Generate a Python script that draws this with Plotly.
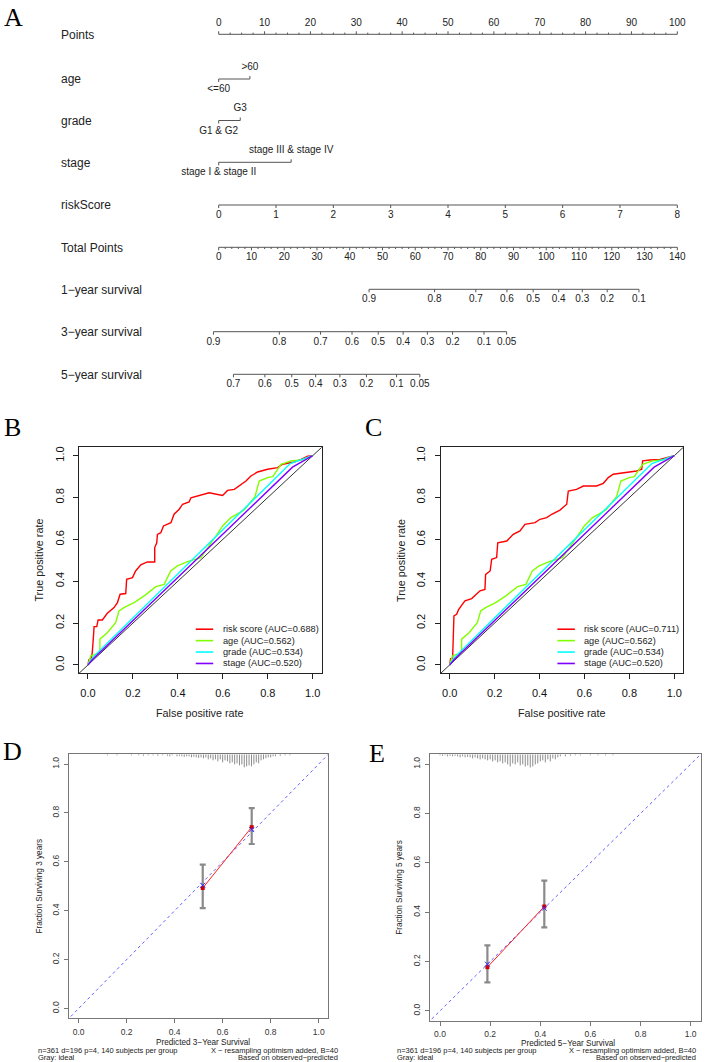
import plotly.graph_objects as go

W, H = 708, 1062
SANS = "Liberation Sans, Arial, sans-serif"
SERIF = "Liberation Serif, Times New Roman, serif"

# ---------------- A: nomogram data ----------------
points_ticks = [0, 10, 20, 30, 40, 50, 60, 70, 80, 90, 100]
age_levels = ["<=60", ">60"]
age_points = [0, 6.8]
grade_levels = ["G1 & G2", "G3"]
grade_points = [0, 4.7]
stage_levels = ["stage I & stage II", "stage III & stage IV"]
stage_points = [0, 15.8]
risk_ticks = [0, 1, 2, 3, 4, 5, 6, 7, 8]
risk_points_per_unit = 12.5
total_ticks = [0, 10, 20, 30, 40, 50, 60, 70, 80, 90, 100, 110, 120, 130, 140]
total_max = 140
surv1_labels = ["0.9", "0.8", "0.7", "0.6", "0.5", "0.4", "0.3", "0.2", "0.1"]
surv1_total = [45.9, 65.9, 78.5, 88.0, 96.0, 103.8, 111.0, 118.6, 128.3]
surv3_labels = ["0.9", "0.8", "0.7", "0.6", "0.5", "0.4", "0.3", "0.2", "0.1", "0.05"]
surv3_total = [-1.6, 18.5, 31.1, 40.7, 48.7, 56.3, 63.7, 71.4, 81.0, 87.9]
surv5_labels = ["0.7", "0.6", "0.5", "0.4", "0.3", "0.2", "0.1", "0.05"]
surv5_total = [4.5, 14.1, 22.3, 29.6, 37.0, 45.1, 54.3, 61.4]

# ---------------- B / C: ROC data ----------------
b_risk_fpr = [0, 0.004, 0.015, 0.019, 0.024, 0.027, 0.039, 0.045, 0.064, 0.086, 0.116, 0.131, 0.143,
              0.168, 0.172, 0.198, 0.212, 0.235, 0.264, 0.297, 0.297, 0.306, 0.309, 0.324, 0.336, 0.369,
              0.383, 0.406, 0.421, 0.450, 0.458, 0.487, 0.539, 0.599, 0.621, 0.651, 0.681, 0.703, 0.725,
              0.755, 0.799, 0.844, 0.866, 0.918, 0.948, 0.978, 1.0]
b_risk_tpr = [0, 0.024, 0.035, 0.059, 0.131, 0.183, 0.183, 0.215, 0.215, 0.247, 0.274, 0.298, 0.338,
              0.341, 0.409, 0.417, 0.449, 0.478, 0.492, 0.492, 0.561, 0.584, 0.624, 0.632, 0.664, 0.680,
              0.720, 0.744, 0.768, 0.779, 0.799, 0.807, 0.823, 0.810, 0.834, 0.839, 0.863, 0.879, 0.903,
              0.922, 0.935, 0.943, 0.959, 0.970, 0.982, 0.998, 1.0]
c_risk_fpr = [0, 0.004, 0.013, 0.016, 0.019, 0.031, 0.039, 0.053, 0.068, 0.098, 0.113, 0.135, 0.157,
              0.160, 0.180, 0.187, 0.209, 0.214, 0.254, 0.283, 0.313, 0.335, 0.380, 0.402, 0.432, 0.454,
              0.491, 0.521, 0.528, 0.565, 0.595, 0.654, 0.684, 0.706, 0.728, 0.788, 0.832, 0.855, 0.859,
              0.892, 0.936, 0.966, 1.0]
c_risk_tpr = [0, 0.030, 0.030, 0.107, 0.234, 0.242, 0.263, 0.285, 0.306, 0.317, 0.333, 0.354, 0.361,
              0.433, 0.449, 0.505, 0.513, 0.584, 0.592, 0.624, 0.640, 0.672, 0.680, 0.696, 0.704, 0.720,
              0.740, 0.768, 0.831, 0.839, 0.855, 0.855, 0.868, 0.895, 0.911, 0.919, 0.927, 0.935, 0.975,
              0.979, 0.982, 0.990, 1.0]
age_fpr = [0, 0.012, 0.053, 0.053, 0.086, 0.123, 0.138, 0.160, 0.205, 0.250, 0.302, 0.339, 0.368,
           0.398, 0.443, 0.502, 0.569, 0.599, 0.636, 0.695, 0.743, 0.762, 0.799, 0.822, 0.859, 0.903,
           0.948, 1.0]
age_tpr = [0, 0.043, 0.059, 0.123, 0.154, 0.202, 0.258, 0.274, 0.298, 0.330, 0.374, 0.385, 0.449,
           0.473, 0.494, 0.513, 0.616, 0.664, 0.704, 0.740, 0.804, 0.879, 0.895, 0.900, 0.959, 0.975,
           0.979, 1.0]
grade_fpr = [0, 0.02, 0.90, 1.0]
grade_tpr = [0, 0.035, 0.962, 1.0]
stage_fpr = [0, 0.02, 0.91, 1.0]
stage_tpr = [0, 0.026, 0.945, 1.0]
b_labels = ["risk score (AUC=0.688)", "age (AUC=0.562)", "grade (AUC=0.534)", "stage (AUC=0.520)"]
c_labels = ["risk score (AUC=0.711)", "age (AUC=0.562)", "grade (AUC=0.534)", "stage (AUC=0.520)"]
roc_colors = ["#FF0000", "#80FF00", "#00FFFF", "#8000FF"]

# ---------------- D / E: calibration data ----------------
d_pred = [0.517, 0.721]
d_obs = [0.493, 0.742]
d_corr = [0.504, 0.732]
d_low = [0.411, 0.673]
d_high = [0.589, 0.820]
d_rug_x = [0.12, 0.16, 0.22, 0.25, 0.27, 0.29, 0.31, 0.33, 0.35, 0.37, 0.38, 0.39, 0.41, 0.42, 0.43,
           0.44, 0.45, 0.46, 0.47, 0.48, 0.49, 0.50, 0.51, 0.52, 0.53, 0.54, 0.55, 0.56, 0.57, 0.58,
           0.59, 0.60, 0.61, 0.62, 0.63, 0.64, 0.65, 0.66, 0.67, 0.68, 0.69, 0.70, 0.71, 0.72, 0.73,
           0.74, 0.75, 0.76, 0.77, 0.78, 0.79, 0.80, 0.81, 0.82, 0.84, 0.86, 0.88]
d_rug_n = [1, 1, 1, 1, 1.5, 1, 1, 1.5, 1, 1.5, 2, 1, 2, 1.5, 2,
           2.5, 2, 2, 3, 2.5, 3, 3.5, 3, 4, 3, 5, 4, 6, 5, 7,
           5, 8, 6, 7, 9, 8, 10, 9, 11, 10, 13, 12, 11, 12, 10,
           8, 9, 6, 5, 4, 3, 3, 2, 2, 1.5, 1, 1]
e_pred = [0.189, 0.416]
e_obs = [0.177, 0.423]
e_corr = [0.189, 0.416]
e_low = [0.115, 0.338]
e_high = [0.265, 0.528]
e_rug_x = [0.00, 0.01, 0.02, 0.03, 0.04, 0.05, 0.06, 0.07, 0.08, 0.09, 0.10, 0.11, 0.12, 0.13, 0.14,
           0.15, 0.16, 0.17, 0.18, 0.19, 0.20, 0.21, 0.22, 0.23, 0.24, 0.25, 0.26, 0.27, 0.28, 0.29,
           0.30, 0.31, 0.32, 0.33, 0.34, 0.35, 0.36, 0.37, 0.38, 0.39, 0.40, 0.41, 0.42, 0.43, 0.44,
           0.45, 0.46, 0.47, 0.48, 0.50, 0.52, 0.54, 0.56, 0.60, 0.63, 0.66, 0.69]
e_rug_n = [1, 1.5, 1, 2, 1.5, 2, 1.5, 2, 3, 2, 3, 2.5, 3, 4, 3,
           4, 5, 4, 5, 6, 5, 7, 6, 8, 7, 9, 8, 10, 12, 9,
           10, 8, 11, 10, 12, 11, 13, 12, 10, 9, 7, 6, 8, 5, 7,
           4, 5, 3, 2, 2, 1.5, 1, 1, 1, 1, 1, 1]

fig = go.Figure()

# ---------------- nomogram drawing ----------------
row_y = {"Points": 34.3, "age": 79, "grade": 120.5, "stage": 162.3, "riskScore": 205,
         "Total Points": 247.3, "1−year survival": 289.3, "3−year survival": 331.7,
         "5−year survival": 374.3}
nom_x, nom_y = [], []
txt_x, txt_y, txt_s = [], [], []


def seg(x0, x1, y0, y1):
    nom_x.extend([x0, x1, None])
    nom_y.extend([y0, y1, None])


def lab(x, y, s):
    txt_x.append(x)
    txt_y.append(y)
    txt_s.append(s)


def scale_row(pts, labels, y, up, minor=None):
    d = -1 if up else 1
    seg(min(pts), max(pts), y, y)
    for p in pts:
        seg(p, p, y, y + d * 3)
    for p in (minor or []):
        seg(p, p, y, y + d * 1.7)
    for p, s in zip(pts, labels):
        lab(p, y + d * 10.4, s)


def cat_row(pts, levels, y):
    seg(min(pts), max(pts), y, y)
    for i, (p, s) in enumerate(zip(pts, levels)):
        d = 1 if i % 2 == 0 else -1
        seg(p, p, y, y + d * 3)
        lab(p, y + (10.5 if d > 0 else -11.8), s)


def tot2pts(t):
    return t * 100 / total_max


scale_row(points_ticks, [str(v) for v in points_ticks], row_y["Points"], True,
          minor=[v / 2 for v in range(0, 201, 5) if v % 20])
cat_row(age_points, age_levels, row_y["age"])
cat_row(grade_points, grade_levels, row_y["grade"])
cat_row(stage_points, stage_levels, row_y["stage"])
scale_row([v * risk_points_per_unit for v in risk_ticks], [str(v) for v in risk_ticks],
          row_y["riskScore"], False)
scale_row([tot2pts(v) for v in total_ticks], [str(v) for v in total_ticks], row_y["Total Points"],
          False, minor=[tot2pts(v) for v in range(0, 141, 2) if v % 10])
scale_row([tot2pts(v) for v in surv1_total], surv1_labels, row_y["1−year survival"], False)
scale_row([tot2pts(v) for v in surv3_total], surv3_labels, row_y["3−year survival"], False)
scale_row([tot2pts(v) for v in surv5_total], surv5_labels, row_y["5−year survival"], False)

fig.add_trace(go.Scatter(x=nom_x, y=nom_y, mode="lines", line=dict(color="#555", width=1),
                         xaxis="x", yaxis="y", hoverinfo="skip"))
fig.add_trace(go.Scatter(x=txt_x, y=txt_y, text=txt_s, mode="text", textposition="middle center",
                         textfont=dict(family=SANS, size=10, color="#222"), cliponaxis=False,
                         xaxis="x", yaxis="y", hoverinfo="skip"))

annotations = []
for name, y in row_y.items():
    annotations.append(dict(x=59 / W, y=1 - (y + 0.5) / H, xref="paper", yref="paper", text=name,
                            showarrow=False, xanchor="left", yanchor="middle",
                            font=dict(family=SANS, size=12, color="#222")))

# ---------------- ROC panels ----------------
roc_sets = [("x2", "y2", b_risk_fpr, b_risk_tpr, b_labels),
            ("x3", "y3", c_risk_fpr, c_risk_tpr, c_labels)]
shapes = []
for xa, ya, rf, rt, labels in roc_sets:
    fig.add_trace(go.Scatter(x=[-0.05, 1.05], y=[-0.05, 1.05], mode="lines",
                             line=dict(color="#000", width=0.8), xaxis=xa, yaxis=ya, hoverinfo="skip"))
    curves = [(rf, rt), (age_fpr, age_tpr), (grade_fpr, grade_tpr), (stage_fpr, stage_tpr)]
    for (fx, ty), col in zip(curves, roc_colors):
        fig.add_trace(go.Scatter(x=fx, y=ty, mode="lines", line=dict(color=col, width=1.4),
                                 xaxis=xa, yaxis=ya, hoverinfo="skip"))
    for i, (s, col) in enumerate(zip(labels, roc_colors)):
        yy = 0.195 - i * 0.0505
        shapes.append(dict(type="line", xref=xa + " domain", yref=ya + " domain",
                           x0=0.481, x1=0.553, y0=yy, y1=yy, line=dict(color=col, width=1.6)))
        annotations.append(dict(x=0.584, y=yy, xref=xa + " domain", yref=ya + " domain", text=s,
                                showarrow=False, xanchor="left", yanchor="middle",
                                font=dict(family=SANS, size=9.2, color="#222")))

# ---------------- calibration panels ----------------
cal_sets = [("x4", "y4", d_pred, d_obs, d_corr, d_low, d_high, d_rug_x, d_rug_n),
            ("x5", "y5", e_pred, e_obs, e_corr, e_low, e_high, e_rug_x, e_rug_n)]
rug_top = 1.04
rug_unit = 0.0041
for xa, ya, pr, ob, co, lo, hi, rx, rn in cal_sets:
    fig.add_trace(go.Scatter(x=[-0.05, 1.05], y=[-0.05, 1.05], mode="lines",
                             line=dict(color="rgba(70,70,255,0.85)", width=1, dash="dot"),
                             xaxis=xa, yaxis=ya, hoverinfo="skip"))
    rxs, rys = [], []
    for x, n in zip(rx, rn):
        rxs.extend([x, x, None])
        rys.extend([rug_top, rug_top - n * rug_unit, None])
    fig.add_trace(go.Scatter(x=rxs, y=rys, mode="lines", line=dict(color="#8c8c8c", width=1),
                             xaxis=xa, yaxis=ya, hoverinfo="skip"))
    fig.add_trace(go.Scatter(x=pr, y=ob, mode="markers", marker=dict(size=1, color="rgba(0,0,0,0)"),
                             error_y=dict(type="data", symmetric=False,
                                          array=[h - o for h, o in zip(hi, ob)],
                                          arrayminus=[o - l for o, l in zip(ob, lo)],
                                          color="#8a8a8a", thickness=2.2, width=3),
                             xaxis=xa, yaxis=ya, hoverinfo="skip"))
    fig.add_trace(go.Scatter(x=pr, y=ob, mode="lines+markers", line=dict(color="#ff2020", width=1),
                             marker=dict(symbol="square", size=4, color="#d00000"),
                             xaxis=xa, yaxis=ya, hoverinfo="skip"))
    fig.add_trace(go.Scatter(x=pr, y=co, mode="markers",
                             marker=dict(symbol="x-thin", size=5, line=dict(color="#3030ff", width=1)),
                             xaxis=xa, yaxis=ya, hoverinfo="skip"))


def P(px, py, text, size, anchor="center", angle=0, family=SANS, color="#222"):
    annotations.append(dict(x=px / W, y=1 - py / H, xref="paper", yref="paper", text=text,
                            showarrow=False, xanchor=anchor, yanchor="middle", textangle=angle,
                            font=dict(family=family, size=size, color=color)))


# panel letters
P(13, 18, "A", 26, family=SERIF, color="#000")
P(12, 427, "B", 26, family=SERIF, color="#000")
P(373, 427, "C", 26, family=SERIF, color="#000")
P(12, 751, "D", 26, family=SERIF, color="#000")
P(377, 753, "E", 26, family=SERIF, color="#000")

# ROC titles
P(200, 713.3, "False positive rate", 10.8)
P(39.3, 560.3, "True positive rate", 10.8, angle=-90)
P(562, 713.3, "False positive rate", 10.8)
P(401.7, 560.3, "True positive rate", 10.8, angle=-90)

# calibration titles
SUB = 7.5
P(203, 1042.7, "Predicted 3−Year Survival", 8.2)
P(39.3, 886.3, "Fraction Surviving 3 years", 8.2, angle=-90)
P(36, 1050.3, "n=361 d=196 p=4, 140 subjects per group", SUB, anchor="left")
P(36, 1057.2, "Gray: ideal", SUB, anchor="left")
P(340, 1050.3, "X − resampling optimism added, B=40", SUB, anchor="right")
P(340, 1057.2, "Based on observed−predicted", SUB, anchor="right")
P(568, 1043.3, "Predicted 5−Year Survival", 8.2)
P(399.3, 887.5, "Fraction Surviving 5 years", 8.2, angle=-90)
P(395, 1050.7, "n=361 d=196 p=4, 140 subjects per group", SUB, anchor="left")
P(395, 1057.5, "Gray: ideal", SUB, anchor="left")
P(698.3, 1050.7, "X − resampling optimism added, B=40", SUB, anchor="right")
P(698.3, 1057.5, "Based on observed−predicted", SUB, anchor="right")


def xdom(l, r):
    return [l / W, r / W]


def ydom(t, b):
    return [1 - b / H, 1 - t / H]


ticks01 = [0, 0.2, 0.4, 0.6, 0.8, 1.0]


def box_axis(dom, anchor, size, color, lcolor, tlen, standoff, angle=0):
    return dict(domain=dom, anchor=anchor, range=[-0.04, 1.04], tickvals=ticks01, tickformat=".1f",
                showline=True, mirror=True, linecolor=lcolor, linewidth=1, ticks="outside",
                ticklen=tlen, tickcolor=lcolor, tickfont=dict(family=SANS, size=size, color=color),
                showgrid=False, zeroline=False, tickangle=angle, ticklabelstandoff=standoff)


# nomogram points scale: 0 at x=218.7px, 100 at x=677.3px, spread over the full width
pt_px = (677.3 - 218.7) / 100
nom_range = [-218.7 / pt_px, (W - 218.7) / pt_px]

fig.update_layout(
    width=W, height=H, margin=dict(l=0, r=0, t=0, b=0),
    paper_bgcolor="white", plot_bgcolor="white", showlegend=False,
    xaxis=dict(domain=[0, 1], range=nom_range, visible=False, anchor="y"),
    yaxis=dict(domain=ydom(0, 400), range=[400, 0], visible=False, anchor="x"),
    xaxis2=box_axis(xdom(79, 321.7), "y2", 11, "#111", "#222", 5, 4),
    yaxis2=box_axis(ydom(447.3, 673.3), "x2", 11, "#111", "#222", 5, 5, angle=-90),
    xaxis3=box_axis(xdom(440.7, 683.3), "y3", 11, "#111", "#222", 5, 4),
    yaxis3=box_axis(ydom(447.3, 673.3), "x3", 11, "#111", "#222", 5, 5, angle=-90),
    xaxis4=box_axis(xdom(69, 328.3), "y4", 8.5, "#333", "#777", 4, 1),
    yaxis4=box_axis(ydom(754.3, 1018.3), "x4", 8.5, "#333", "#777", 4, 2, angle=-90),
    xaxis5=box_axis(xdom(430, 700.7), "y5", 8.5, "#333", "#777", 4, 1),
    yaxis5=box_axis(ydom(754.3, 1020.7), "x5", 8.5, "#333", "#777", 4, 2, angle=-90),
    annotations=annotations, shapes=shapes,
)

fig.write_html("out.html", config={"displayModeBar": False},
               post_script="document.body.style.margin='0';")
